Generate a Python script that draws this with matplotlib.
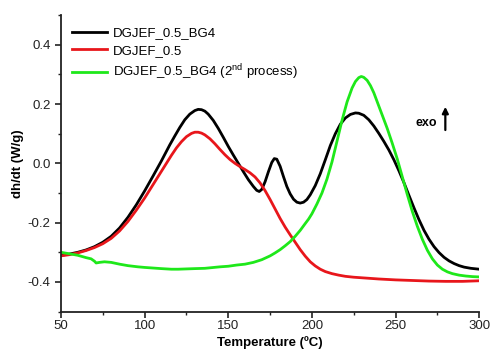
import matplotlib
matplotlib.use("Agg")
import matplotlib.pyplot as plt
from matplotlib.ticker import MultipleLocator

plt.rcParams['font.family'] = ['Liberation Sans', 'DejaVu Sans']

black_T = [50, 55, 60, 65, 70, 75, 80, 85, 90, 95, 100, 105, 110, 115, 118, 121, 124, 127, 130, 132,
           134, 136, 138, 141, 144, 147, 150, 153, 156, 159, 162, 165, 167, 168.5, 170, 172, 174, 176,
           177.5, 179, 181, 183, 185, 187, 189, 191, 193, 195, 197, 199, 202, 205, 208, 211, 214, 217,
           220, 223, 226, 228, 231, 234, 237, 240, 243, 246, 249, 252, 255, 258, 261, 264, 267, 270,
           273, 276, 279, 282, 285, 288, 291, 295, 300]
black_v = [-0.310, -0.306, -0.300, -0.292, -0.281, -0.266, -0.246, -0.218, -0.182, -0.140, -0.093,
           -0.043, 0.008, 0.062, 0.092, 0.121, 0.147, 0.166, 0.178, 0.182, 0.181, 0.176, 0.166, 0.145,
           0.118, 0.088, 0.057, 0.028, 0.000, -0.028, -0.055, -0.078, -0.091, -0.095, -0.088, -0.062,
           -0.028, 0.003, 0.016, 0.014, -0.010, -0.045, -0.078, -0.103, -0.121, -0.131, -0.134, -0.131,
           -0.122, -0.106, -0.075, -0.035, 0.012, 0.060, 0.100, 0.132, 0.153, 0.165, 0.170, 0.169,
           0.162, 0.147, 0.126, 0.101, 0.074, 0.045, 0.012, -0.025, -0.065, -0.108, -0.150, -0.190,
           -0.226, -0.256, -0.281, -0.301, -0.317, -0.329, -0.338, -0.345, -0.350, -0.354, -0.357]

red_T = [50, 55, 60, 65, 70, 75, 80, 85, 90, 95, 100, 105, 110, 113, 116, 119, 122, 125, 128, 130,
         132, 134, 136, 139, 142, 145, 148, 151, 154, 157, 160, 163, 166, 169, 172, 175, 178, 181, 184,
         187, 190, 193, 196, 199, 202, 205, 208, 212, 216, 220, 225, 230, 240, 250, 260, 270, 280, 290, 300]
red_v = [-0.312, -0.308, -0.302, -0.294, -0.284, -0.271, -0.253, -0.228, -0.196, -0.158, -0.117,
         -0.072, -0.027, 0.000, 0.027, 0.052, 0.073, 0.090, 0.101, 0.105, 0.105, 0.102, 0.096, 0.083,
         0.066, 0.047, 0.029, 0.013, 0.000, -0.011, -0.021, -0.032, -0.046, -0.066, -0.092, -0.122,
         -0.154, -0.186, -0.215, -0.241, -0.266, -0.291, -0.313, -0.332, -0.346, -0.357, -0.365, -0.372,
         -0.377, -0.381, -0.384, -0.386, -0.390, -0.393, -0.395, -0.397, -0.398, -0.398, -0.396]

green_T = [50, 55, 60, 65, 68, 70, 71, 73, 76, 80, 85, 90, 96, 100, 110, 116, 120, 130, 136, 145, 150,
           155, 160, 165, 170, 175, 178, 181, 184, 187, 190, 193, 196, 198, 200, 203, 206, 209, 212, 215,
           218, 221, 224, 226, 228, 229.5, 231, 233, 235, 237, 239, 242, 245, 248, 251, 254, 257, 260,
           263, 266, 269, 272, 275, 278, 281, 284, 288, 292, 296, 300]
green_v = [-0.300, -0.305, -0.310, -0.318, -0.322, -0.330, -0.336, -0.334, -0.332, -0.334, -0.340,
           -0.345, -0.349, -0.351, -0.355, -0.357, -0.357, -0.355, -0.354, -0.349, -0.347, -0.343,
           -0.340, -0.334, -0.325, -0.312, -0.302, -0.291, -0.278, -0.264, -0.246, -0.226, -0.203,
           -0.188, -0.170, -0.137, -0.100, -0.053, 0.005, 0.075, 0.145, 0.207, 0.254, 0.276, 0.289,
           0.293, 0.290, 0.280, 0.262, 0.238, 0.208, 0.163, 0.118, 0.068, 0.015, -0.045, -0.105,
           -0.162, -0.212, -0.256, -0.293, -0.322, -0.343, -0.357, -0.366, -0.372, -0.377, -0.380,
           -0.382, -0.383]

labels = ["DGJEF_0.5_BG4", "DGJEF_0.5", "DGJEF_0.5_BG4 (2$^{\\mathregular{nd}}$ process)"]
colors = ["#000000", "#e8161b", "#1ee81a"]

fig = plt.figure(figsize=(4.92, 3.59), dpi=100)
ax = fig.add_axes([0.124, 0.132, 0.850, 0.826])

ax.plot(black_T, black_v, color=colors[0], lw=2.0, label=labels[0])
ax.plot(red_T, red_v, color=colors[1], lw=2.0, label=labels[1])
ax.plot(green_T, green_v, color=colors[2], lw=2.0, label=labels[2])

ax.set_xlim(50, 300)
ax.set_ylim(-0.5, 0.5)
ax.xaxis.set_major_locator(MultipleLocator(50))
ax.xaxis.set_minor_locator(MultipleLocator(25))
ax.yaxis.set_minor_locator(MultipleLocator(0.1))
ax.set_yticks([-0.4, -0.2, 0.0, 0.2, 0.4])
ax.set_yticklabels(["-0.4", "-0.2", "0.0", "0.2", "0.4"])
ax.spines['top'].set_visible(False)
ax.spines['right'].set_visible(False)
for s in ['left', 'bottom']:
    ax.spines[s].set_linewidth(1.3)
    ax.spines[s].set_color('#222222')
ax.tick_params(which='major', direction='out', length=4, width=1.2, labelsize=9.5, colors='#222222')
ax.tick_params(which='minor', direction='out', length=2.5, width=1.0, colors='#222222')
ax.tick_params(axis='x', pad=2)

ax.set_xlabel("Temperature (ºC)", fontsize=9.5, fontweight='bold', labelpad=3)
ax.set_ylabel("dh/dt (W/g)", fontsize=9.5, fontweight='bold', labelpad=3)

leg = ax.legend(loc='upper left', bbox_to_anchor=(0.005, 0.99), frameon=False, fontsize=9.5,
                handlelength=2.6, handletextpad=0.5, labelspacing=0.4, borderaxespad=0.3)

ax.text(0.873, 0.636, "exo", transform=ax.transAxes, fontsize=9, fontweight='bold',
        ha='center', va='center')
ax.annotate("", xy=(0.919, 0.70), xytext=(0.919, 0.603), xycoords='axes fraction',
            arrowprops=dict(arrowstyle='-|>', color='black', lw=1.6, mutation_scale=9))

fig.savefig("out.png", dpi=100)
